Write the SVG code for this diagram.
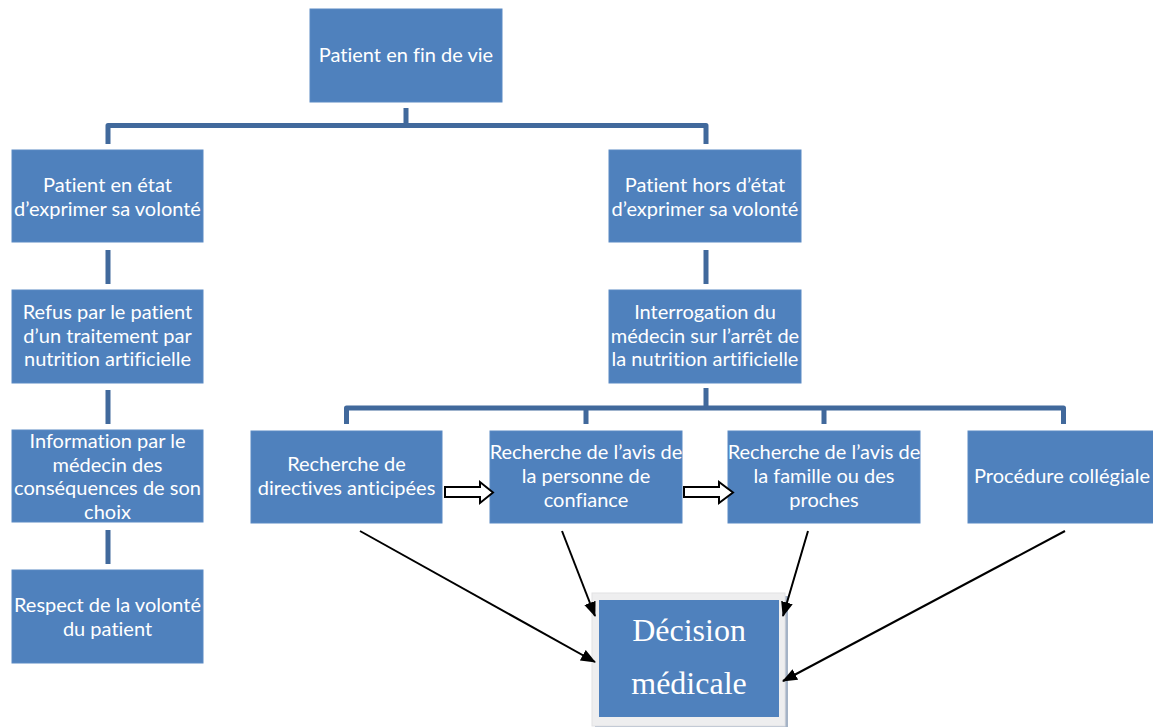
<svg xmlns="http://www.w3.org/2000/svg" width="1153" height="727" viewBox="0 0 1153 727">
<defs>
<style>
.box{fill:#4F81BD;stroke:#5B8AC4;stroke-width:1}
.t{font-family:Lato,"Liberation Sans",sans-serif;font-size:20px;fill:#fff;text-anchor:middle;font-variant-ligatures:none;font-feature-settings:"liga" 0}
.dt{font-family:"Liberation Serif",serif;font-size:32px;fill:#fff;text-anchor:middle}
.con{fill:none;stroke:#41699C;stroke-width:5;stroke-linejoin:round}
.arr{fill:none;stroke:#000;stroke-width:2;marker-end:url(#ah)}
.blk{fill:#fff;stroke:#000;stroke-width:2;stroke-linejoin:miter}
</style>
<marker id="ah" viewBox="0 0 15 12" refX="14" refY="6" markerWidth="15" markerHeight="12" markerUnits="userSpaceOnUse" orient="auto">
<path d="M0,0 L15,6 L0,12 z" fill="#000"/>
</marker>
</defs>
<rect width="1153" height="727" fill="#fff"/>
<g id="n-top"><rect class="box" x="310" y="9" width="192" height="93"/><text class="t" x="406" y="62">Patient en fin de vie</text></g>
<g id="n-etat"><rect class="box" x="12" y="150" width="191" height="92"/><text class="t" x="107.5" y="192">Patient en état</text><text class="t" x="107.5" y="216">d’exprimer sa volonté</text></g>
<g id="n-refus"><rect class="box" x="12" y="290" width="191" height="93"/><text class="t" x="107.5" y="319">Refus par le patient</text><text class="t" x="107.5" y="343">d’un traitement par</text><text class="t" x="107.5" y="366">nutrition artificielle</text></g>
<g id="n-info"><rect class="box" x="12" y="430" width="191" height="92"/><text class="t" x="107.5" y="448">Information par le</text><text class="t" x="107.5" y="472">médecin des</text><text class="t" x="107.5" y="495">conséquences de son</text><text class="t" x="107.5" y="519">choix</text></g>
<g id="n-respect"><rect class="box" x="12" y="570" width="191" height="93"/><text class="t" x="107.5" y="612">Respect de la volonté</text><text class="t" x="107.5" y="636">du patient</text></g>
<g id="n-hors"><rect class="box" x="609" y="150" width="192" height="92"/><text class="t" x="705" y="192">Patient hors d’état</text><text class="t" x="705" y="216">d’exprimer sa volonté</text></g>
<g id="n-interro"><rect class="box" x="609" y="290" width="192" height="93"/><text class="t" x="705" y="319">Interrogation du</text><text class="t" x="705" y="343">médecin sur l’arrêt de</text><text class="t" x="705" y="366">la nutrition artificielle</text></g>
<g id="n-directives"><rect class="box" x="251" y="431" width="191" height="92"/><text class="t" x="346.5" y="471">Recherche de</text><text class="t" x="346.5" y="495">directives anticipées</text></g>
<g id="n-confiance"><rect class="box" x="490" y="431" width="192" height="92"/><text class="t" x="586" y="459">Recherche de l’avis de</text><text class="t" x="586" y="483">la personne de</text><text class="t" x="586" y="507">confiance</text></g>
<g id="n-famille"><rect class="box" x="728" y="431" width="192" height="92"/><text class="t" x="824" y="459">Recherche de l’avis de</text><text class="t" x="824" y="483">la famille ou des</text><text class="t" x="824" y="507">proches</text></g>
<g id="n-collegiale"><rect class="box" x="968" y="431" width="192" height="92"/><text class="t" x="1062" y="483">Procédure collégiale</text></g>
<g id="n-decision">
<rect x="595" y="596" width="193" height="133" fill="#A5B3C6"/>
<rect x="592" y="593" width="193" height="133" fill="#EEEEEF" stroke="#E2E2E4" stroke-width="1"/>
<rect x="599" y="600" width="180" height="117" fill="#4F81BD"/>
<text class="dt" x="689" y="641">Décision</text>
<text class="dt" x="689" y="694">médicale</text>
</g>
<g id="connectors">
<path class="con" d="M406,108 V125.5 M108,144 V125.5 H706 V144"/>
<path class="con" d="M108,250 V284 M108,390 V424 M108,530 V564"/>
<path class="con" d="M706,250 V284"/>
<path class="con" d="M706,388 V408 M346.5,424 V408 H1063.5 V424 M586,408 V424 M824,408 V424"/>
<path class="blk" d="M445,487 H480 V482 L493,492.5 L480,503 V497 H445 Z"/>
<path class="blk" d="M684,487 H719 V482 L733,492.5 L719,503 V497 H684 Z"/>
<path class="arr" d="M360,531 L595,662"/>
<path class="arr" d="M562,531 L595,616"/>
<path class="arr" d="M808,531 L783,616"/>
<path class="arr" d="M1065,531 L783,681"/>
</g>
</svg>
